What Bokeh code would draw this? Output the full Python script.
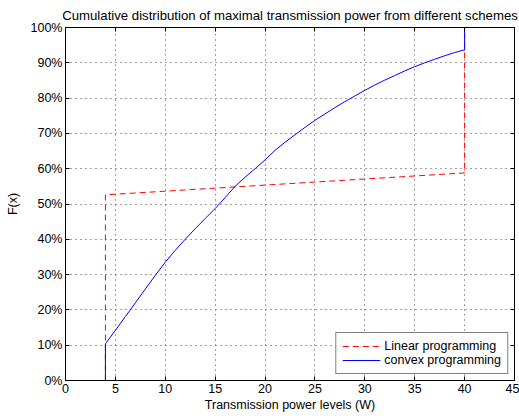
from bokeh.plotting import figure
from bokeh.models import (Range1d, LinearAxis, FixedTicker, PrintfTickFormatter,
                          Legend, LegendItem)
from bokeh.embed import file_html
from bokeh.resources import INLINE

# Empirical CDF of maximal transmission power (W) -> F(x) in percent
linear_power = [4, 4, 40, 40]
linear_cdf = [0, 52.6, 58.8, 100]

convex_power = [4, 4, 5, 6, 7, 8, 9, 10, 11, 12, 13, 14, 15, 16, 17, 18, 19, 20,
                21, 22, 23, 24, 25, 26, 27, 28, 29, 30, 31, 32, 33, 34, 35,
                36, 37, 38, 39, 40, 40]
convex_cdf = [0, 10.4, 14.2, 18.1, 22.0, 25.9, 29.8, 33.5, 36.9, 40.0, 43.0, 45.9, 48.7,
              51.8, 55.0, 57.6, 60.0, 62.5, 65.2, 67.5, 69.6, 71.7, 73.7, 75.5, 77.3,
              79.0, 80.6, 82.2, 83.7, 85.1, 86.4, 87.7, 88.9, 90.0, 91.0, 92.0, 92.9,
              93.7, 100]

x_ticks = [0, 5, 10, 15, 20, 25, 30, 35, 40, 45]
y_ticks = [0, 10, 20, 30, 40, 50, 60, 70, 80, 90, 100]

FONT = "Liberation Sans"

p = figure(width=519, height=418, output_backend="svg", toolbar_location=None,
           x_range=Range1d(0, 45), y_range=Range1d(0, 100),
           min_border_left=65, min_border_right=5, min_border_top=27, min_border_bottom=38,
           title="Cumulative distribution of maximal transmission power from different schemes")
p.title.text_font = FONT
p.title.text_font_size = "13.2px"
p.title.text_font_style = "normal"
p.title.text_color = "black"
p.title.align = "center"
p.title.standoff = 10
p.outline_line_color = "black"
p.outline_line_width = 1

xa = p.xaxis[0]
ya = p.yaxis[0]
top = LinearAxis()
right = LinearAxis()
p.add_layout(top, "above")
p.add_layout(right, "right")
ax_ticks = {xa: x_ticks, top: x_ticks, ya: y_ticks, right: y_ticks}

for ax in (xa, ya, top, right):
    ax.ticker = FixedTicker(ticks=ax_ticks[ax])
    ax.major_tick_in = 4
    ax.major_tick_out = 0
    ax.minor_tick_in = 0
    ax.minor_tick_out = 0
    ax.axis_line_color = "black"
    ax.major_tick_line_color = "black"
    ax.major_label_text_font = FONT
    ax.major_label_text_font_size = "12.5px"
    ax.major_label_text_color = "black"
    ax.major_label_standoff = 3
    ax.axis_label_text_font = FONT
    ax.axis_label_text_font_size = "12.5px"
    ax.axis_label_text_font_style = "normal"
    ax.axis_label_text_color = "black"

for ax in (top, right):
    ax.major_label_text_font_size = "0px"
    ax.major_label_text_alpha = 0
    ax.major_label_standoff = 0

ya.formatter = PrintfTickFormatter(format="%d%%")
xa.axis_label = "Transmission power levels (W)"
ya.axis_label = "F(x)"
xa.axis_label_standoff = 2
ya.axis_label_standoff = 8

for g in (p.xgrid[0], p.ygrid[0]):
    g.grid_line_color = "#444444"
    g.grid_line_dash = "1 4"
    g.grid_line_width = 1

r_lin = p.line(linear_power, linear_cdf, line_color="#ff0000", line_dash="6 4", line_width=1)
r_cvx = p.line(convex_power, convex_cdf, line_color="#0000ff", line_width=1)

legend = Legend(items=[LegendItem(label="Linear programming", renderers=[r_lin]),
                       LegendItem(label="convex programming", renderers=[r_cvx])],
                location="bottom_right")
legend.label_text_font = FONT
legend.label_text_font_size = "12.5px"
legend.label_text_color = "black"
legend.border_line_color = "black"
legend.border_line_width = 1
legend.margin = 6
legend.padding = 6
legend.spacing = 0
legend.glyph_width = 38
legend.glyph_height = 12
legend.label_height = 12
legend.label_standoff = 4
p.add_layout(legend)

open("out.html", "w").write(file_html(p, INLINE))
